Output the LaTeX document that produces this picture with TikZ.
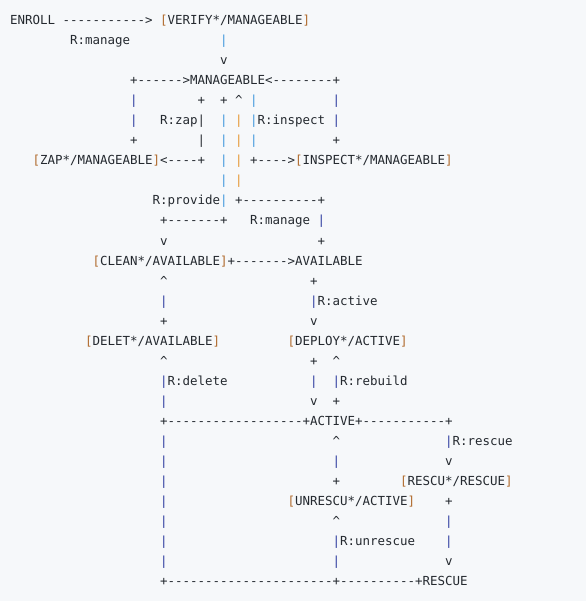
\documentclass[tikz,border=0pt]{standalone}
\usepackage{fontspec}
\setmonofont{DejaVu Sans Mono}
\definecolor{bg}{HTML}{F6F8FA}
\definecolor{ink}{HTML}{24292F}
\definecolor{br}{HTML}{B06A2C}
\definecolor{nv}{HTML}{2B3A9E}
\definecolor{lb}{HTML}{3C96DC}
\definecolor{or}{HTML}{E5952F}
\tikzset{code/.style={anchor=base west, inner sep=0pt, outer sep=0pt,
  font=\ttfamily\fontsize{12.46}{15}\selectfont}}
\newcommand\seg[4]{\node[code,text=#3] (s#1-#2) at ({10+7.5*#2},{-5-20*#1}) {#4};}
\newcommand\ct{\textasciicircum}
\begin{document}
\begin{tikzpicture}[x=1pt,y=1pt]
\fill[bg] (0,0) rectangle (586,-601);
\useasboundingbox (0,0) rectangle (586,-601);
% row 1
\seg{1}{0}{ink}{ENROLL}
\seg{1}{7}{ink}{----------->}
\seg{1}{20}{br}{[}
\seg{1}{21}{ink}{VERIFY*/MANAGEABLE}
\seg{1}{39}{br}{]}
% row 2-3
\seg{2}{8}{ink}{R:manage}
\seg{2}{28}{lb}{|}
\seg{3}{28}{ink}{v}
% row 4
\seg{4}{16}{ink}{+------>MANAGEABLE<--------+}
% row 5
\seg{5}{16}{nv}{|}
\seg{5}{25}{ink}{+}
\seg{5}{28}{ink}{+}
\seg{5}{30}{ink}{\ct}
\seg{5}{32}{lb}{|}
\seg{5}{43}{nv}{|}
% row 6
\seg{6}{16}{nv}{|}
\seg{6}{20}{ink}{R:zap}
\seg{6}{25}{ink}{|}
\seg{6}{28}{lb}{|}
\seg{6}{30}{or}{|}
\seg{6}{32}{lb}{|}
\seg{6}{33}{ink}{R:inspect}
\seg{6}{43}{nv}{|}
% row 7
\seg{7}{16}{ink}{+}
\seg{7}{25}{ink}{|}
\seg{7}{28}{lb}{|}
\seg{7}{30}{or}{|}
\seg{7}{32}{lb}{|}
\seg{7}{43}{ink}{+}
% row 8
\seg{8}{3}{br}{[}
\seg{8}{4}{ink}{ZAP*/MANAGEABLE}
\seg{8}{19}{br}{]}
\seg{8}{20}{ink}{<----+}
\seg{8}{28}{lb}{|}
\seg{8}{30}{or}{|}
\seg{8}{32}{ink}{+---->}
\seg{8}{38}{br}{[}
\seg{8}{39}{ink}{INSPECT*/MANAGEABLE}
\seg{8}{58}{br}{]}
% row 9
\seg{9}{28}{lb}{|}
\seg{9}{30}{or}{|}
% row 10
\seg{10}{19}{ink}{R:provide}
\seg{10}{28}{lb}{|}
\seg{10}{30}{ink}{+----------+}
% row 11
\seg{11}{20}{ink}{+-------+}
\seg{11}{32}{ink}{R:manage}
\seg{11}{41}{nv}{|}
% row 12
\seg{12}{20}{ink}{v}
\seg{12}{41}{ink}{+}
% row 13
\seg{13}{11}{br}{[}
\seg{13}{12}{ink}{CLEAN*/AVAILABLE}
\seg{13}{28}{br}{]}
\seg{13}{29}{ink}{+------->AVAILABLE}
% row 14
\seg{14}{20}{ink}{\ct}
\seg{14}{40}{ink}{+}
% row 15
\seg{15}{20}{nv}{|}
\seg{15}{40}{nv}{|}
\seg{15}{41}{ink}{R:active}
% row 16
\seg{16}{20}{ink}{+}
\seg{16}{40}{ink}{v}
% row 17
\seg{17}{10}{br}{[}
\seg{17}{11}{ink}{DELET*/AVAILABLE}
\seg{17}{27}{br}{]}
\seg{17}{37}{br}{[}
\seg{17}{38}{ink}{DEPLOY*/ACTIVE}
\seg{17}{52}{br}{]}
% row 18
\seg{18}{20}{ink}{\ct}
\seg{18}{40}{ink}{+}
\seg{18}{43}{ink}{\ct}
% row 19
\seg{19}{20}{nv}{|}
\seg{19}{21}{ink}{R:delete}
\seg{19}{40}{nv}{|}
\seg{19}{43}{nv}{|}
\seg{19}{44}{ink}{R:rebuild}
% row 20
\seg{20}{20}{nv}{|}
\seg{20}{40}{ink}{v}
\seg{20}{43}{ink}{+}
% row 21
\seg{21}{20}{ink}{+------------------+ACTIVE+-----------+}
% row 22
\seg{22}{20}{nv}{|}
\seg{22}{43}{ink}{\ct}
\seg{22}{58}{nv}{|}
\seg{22}{59}{ink}{R:rescue}
% row 23
\seg{23}{20}{nv}{|}
\seg{23}{43}{nv}{|}
\seg{23}{58}{ink}{v}
% row 24
\seg{24}{20}{nv}{|}
\seg{24}{43}{ink}{+}
\seg{24}{52}{br}{[}
\seg{24}{53}{ink}{RESCU*/RESCUE}
\seg{24}{66}{br}{]}
% row 25
\seg{25}{20}{nv}{|}
\seg{25}{37}{br}{[}
\seg{25}{38}{ink}{UNRESCU*/ACTIVE}
\seg{25}{53}{br}{]}
\seg{25}{58}{ink}{+}
% row 26
\seg{26}{20}{nv}{|}
\seg{26}{43}{ink}{\ct}
\seg{26}{58}{nv}{|}
% row 27
\seg{27}{20}{nv}{|}
\seg{27}{43}{nv}{|}
\seg{27}{44}{ink}{R:unrescue}
\seg{27}{58}{nv}{|}
% row 28
\seg{28}{20}{nv}{|}
\seg{28}{43}{nv}{|}
\seg{28}{58}{ink}{v}
% row 29
\seg{29}{20}{ink}{+----------------------+----------+RESCUE}
\end{tikzpicture}
\end{document}
